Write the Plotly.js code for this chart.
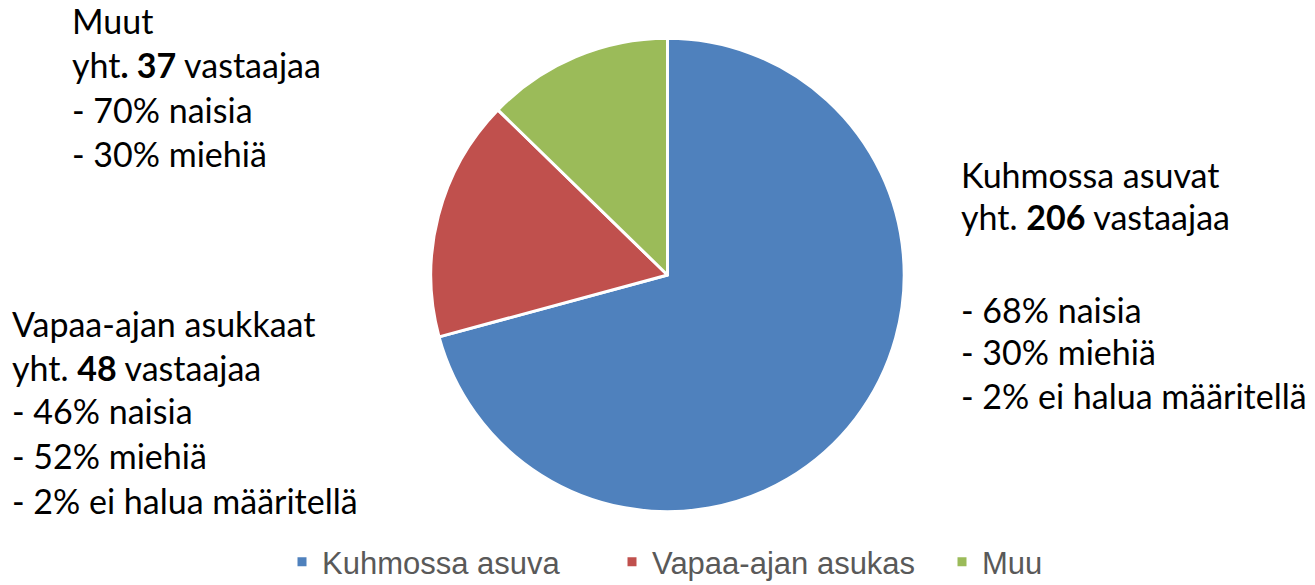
<!DOCTYPE html>
<html>
<head>
<meta charset="utf-8">
<script src="https://cdn.plot.ly/plotly-3.0.1.min.js"></script>
<style>html,body{margin:0;padding:0;background:#fff;}#chart{width:1315px;height:585px;}</style>
</head>
<body>
<div id="chart"></div>
<script>
const categories = ["Kuhmossa asuva", "Vapaa-ajan asukas", "Muu"];
const values = [206, 48, 37];
const colors = ["#4F81BD", "#C0504D", "#9BBB59"];

const kuhmoLines = ["Kuhmossa asuvat", "yht. <b>206</b> vastaajaa", "- 68% naisia", "- 30% miehiä", "- 2% ei halua määritellä"];
const vapaaLines = ["Vapaa-ajan asukkaat", "yht. <b>48</b> vastaajaa", "- 46% naisia", "- 52% miehiä", "- 2% ei halua määritellä"];
const muutLines = ["Muut", "yht<b>. 37</b> vastaajaa", "- 70% naisia", "- 30% miehiä"];

const W = 1315, H = 585;
const annFont = {family: "Lato, 'Noto Sans', sans-serif", size: 34, color: "#000000"};
function block(lines, xPx, baselines) {
  return lines.map((t, i) => ({
    text: t, xref: "paper", yref: "paper",
    x: (xPx - 3) / W, y: 1 - (baselines[i] - 13) / H,
    xanchor: "left", yanchor: "middle",
    showarrow: false, font: annFont, align: "left"
  }));
}
const annotations = [].concat(
  block(muutLines, 73, [34, 77, 122, 167]),
  block(kuhmoLines, 962, [187, 229, 322, 364, 408]),
  block(vapaaLines, 13, [336, 380, 424, 468, 513])
);

const data = [{
  type: "pie",
  labels: categories,
  values: values,
  sort: false,
  direction: "clockwise",
  rotation: 0,
  textinfo: "none",
  hoverinfo: "label+value",
  marker: {colors: colors, line: {color: "#ffffff", width: 3}},
  domain: {x: [430.5 / W, 904.5 / W], y: [1 - 511.7 / H, 1 - 38.3 / H]}
}];

const layout = {
  width: W, height: H,
  margin: {l: 0, r: 0, t: 0, b: 0, autoexpand: false},
  paper_bgcolor: "#ffffff",
  showlegend: true,
  legend: {
    orientation: "h", x: 282 / W, xanchor: "left", y: 1 - 562 / H, yanchor: "middle",
    font: {family: "'Liberation Sans', Arial, sans-serif", size: 31, color: "#595959"},
    itemwidth: 30, tracegroupgap: 0,
    entrywidth: 285, entrywidthmode: "pixels"
  },
  annotations: annotations
};

Plotly.newPlot("chart", data, layout, {displayModeBar: false, staticPlot: true});
</script>
</body>
</html>
